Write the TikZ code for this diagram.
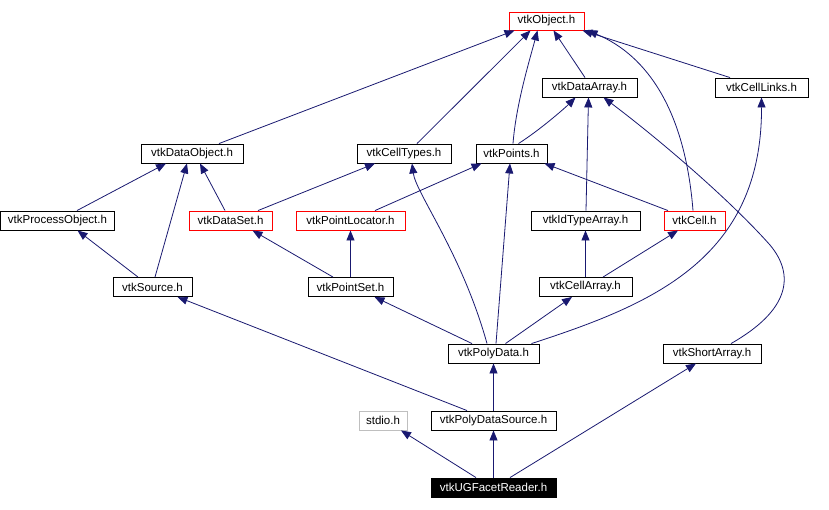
\documentclass[tikz,border=0pt]{standalone}
\usepackage{fontspec}
\setmainfont{Liberation Sans}
\usetikzlibrary{arrows.meta}
\definecolor{edgeblue}{RGB}{25,25,112}
\definecolor{boxgray}{RGB}{191,191,191}
\tikzset{
  file/.style={draw=black, line width=0.9pt, fill=white, minimum height=19pt, inner sep=0pt,
    font=\fontsize{11.5}{13}\selectfont, text=black},
  redfile/.style={file, draw=red},
  grayfile/.style={file, draw=boxgray},
  curfile/.style={file, fill=black, text=white},
  dep/.style={draw=edgeblue, line width=0.8pt, -{Triangle[length=10pt,width=8pt]}},
}
\begin{document}
\begin{tikzpicture}[x=1pt, y=-1pt]
\useasboundingbox (0,0) rectangle (829,509);
% nodes
\node[redfile, minimum width=75pt, minimum height=18pt] (obj) at (546.5,21) {vtkObject.h};
\node[file, minimum width=95pt] (darr) at (589.5,87.5) {vtkDataArray.h};
\node[file, minimum width=93pt] (clinks) at (761.5,87.5) {vtkCellLinks.h};
\node[file, minimum width=102pt] (dobj) at (192,153.5) {vtkDataObject.h};
\node[file, minimum width=94pt] (ctypes) at (404,153.5) {vtkCellTypes.h};
\node[file, minimum width=71pt] (pts) at (511.5,153.5) {vtkPoints.h};
\node[file, minimum width=114pt] (pobj) at (57.5,220.5) {vtkProcessObject.h};
\node[redfile, minimum width=83pt] (dset) at (230.5,220.5) {vtkDataSet.h};
\node[redfile, minimum width=109pt] (ploc) at (350.5,220.5) {vtkPointLocator.h};
\node[file, minimum width=109pt] (idarr) at (585.5,220.5) {vtkIdTypeArray.h};
\node[redfile, minimum width=61pt] (cell) at (694.5,220.5) {vtkCell.h};
\node[file, minimum width=79pt] (src) at (152.5,287) {vtkSource.h};
\node[file, minimum width=85pt] (pset) at (350.5,287) {vtkPointSet.h};
\node[file, minimum width=93pt] (carr) at (585.5,287) {vtkCellArray.h};
\node[file, minimum width=91pt] (pdata) at (493.5,353.5) {vtkPolyData.h};
\node[file, minimum width=98pt] (sarr) at (712,353.5) {vtkShortArray.h};
\node[grayfile, minimum width=48pt] (stdio) at (383,420.5) {stdio.h};
\node[file, minimum width=125pt] (pdsrc) at (493.5,420.5) {vtkPolyDataSource.h};
\node[curfile, minimum width=125pt] (reader) at (493.5,487.5) {vtkUGFacetReader.h};
% edges
\draw[dep] ([xshift=27pt]dobj.north) -- ([xshift=-32pt]obj.south);
\draw[dep] ([xshift=13pt]ctypes.north) -- ([xshift=-16pt]obj.south);
\draw[dep] ([xshift=1.5pt]pts.north) .. controls +(3,-39) and +(-8,30) .. ([xshift=-9pt]obj.south);
\draw[dep] ([xshift=-4.5pt]darr.north) -- ([xshift=7pt]obj.south);
\draw[dep] ([xshift=-31.5pt]clinks.north) -- ([xshift=36pt]obj.south);
\draw[dep] ([xshift=-1.5pt]cell.north) .. controls +(-8,-100) and +(60,25) .. ([xshift=41pt]obj.south);
\draw[dep] ([xshift=7pt]pts.north) .. controls +(22,-14) and +(-10,10) .. ([xshift=-14pt]darr.south);
\draw[dep] ([xshift=0.5pt]idarr.north) -- ([xshift=-1pt]darr.south);
\draw[dep] ([xshift=19pt]sarr.north) .. controls (790,310) and (795,275) .. (770,245)
  .. controls (730,200) and (660,140) .. ([xshift=14pt]darr.south);
\draw[dep] ([xshift=27.5pt]dset.north) -- ([xshift=-29pt]ctypes.south);
\draw[dep] ([xshift=-6.5pt]pdata.north) .. controls +(-25,-90) and +(4,30) .. ([xshift=8pt]ctypes.south);
\draw[dep] ([xshift=24.5pt]ploc.north) -- ([xshift=-30pt]pts.south);
\draw[dep] ([xshift=2.5pt]pdata.north) -- ([xshift=-1.5pt]pts.south);
\draw[dep] ([xshift=-26.5pt]cell.north) -- ([xshift=33pt]pts.south);
\draw[dep] ([xshift=19.5pt]pobj.north) -- ([xshift=-26pt]dobj.south);
\draw[dep] ([xshift=2.5pt]src.north) -- ([xshift=-5pt]dobj.south);
\draw[dep] ([xshift=-5.5pt]dset.north) -- ([xshift=8pt]dobj.south);
\draw[dep] ([xshift=-14.5pt]src.north) -- ([xshift=20pt]pobj.south);
\draw[dep] ([xshift=-17.5pt]pset.north) -- ([xshift=22pt]dset.south);
\draw[dep] (pset.north) -- (ploc.south);
\draw[dep] (carr.north) -- (idarr.south);
\draw[dep] ([xshift=17.5pt]carr.north) -- ([xshift=-16.5pt]cell.south);
\draw[dep] ([xshift=-26.5pt]pdsrc.north) -- ([xshift=25pt]src.south);
\draw[dep] ([xshift=-21.5pt]pdata.north) -- ([xshift=24pt]pset.south);
\draw[dep] ([xshift=12pt]pdata.north) -- ([xshift=-13.5pt]carr.south);
\draw[dep] ([xshift=38pt]pdata.north) .. controls (650,305) and (762,260) .. (clinks.south);
\draw[dep] (pdsrc.north) -- (pdata.south);
\draw[dep] (reader.north) -- (pdsrc.south);
\draw[dep] ([xshift=-17.5pt]reader.north) -- ([xshift=18pt]stdio.south);
\draw[dep] ([xshift=16.5pt]reader.north) -- ([xshift=-16pt]sarr.south);
\end{tikzpicture}
\end{document}
